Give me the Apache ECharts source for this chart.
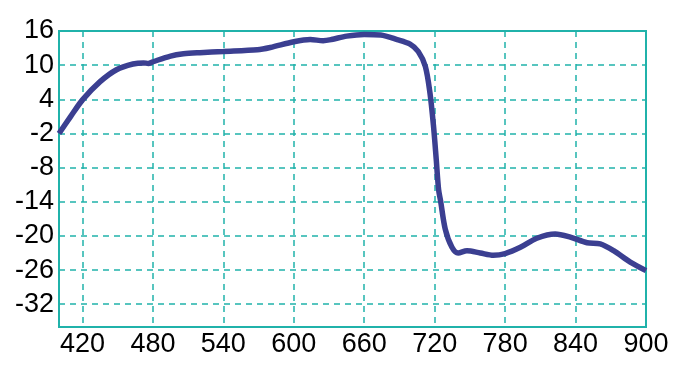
<!DOCTYPE html>
<html><head><meta charset="utf-8">
<script src="https://cdn.jsdelivr.net/npm/echarts@6/dist/echarts.min.js"></script>
<style>html,body{margin:0;padding:0;background:#fff}#c{width:675px;height:376px}</style>
</head><body><div id="c"></div>
<script>
const xValues = [400,410,420,435,449,463,472,476,480,495,506,520,540,569,580,600,614,625,632,645,660,674,688,699,706,712,716,719,721.3,723.3,725,729,734.7,740,747.5,758.8,770,780,793,807,822.7,835.5,849.8,861,872.4,886.6,900];
const yValues = [-2.0,1.0,3.9,7.1,9.2,10.2,10.4,10.3,10.6,11.6,12.0,12.2,12.4,12.7,13.1,14.1,14.5,14.3,14.5,15.1,15.4,15.3,14.5,13.7,12.4,9.8,5.1,-0.7,-6.5,-11.8,-13.8,-18.8,-22.0,-23.0,-22.6,-23.0,-23.4,-23.1,-22.0,-20.4,-19.65,-20.2,-21.2,-21.4,-22.6,-24.6,-26.1];
const xTicks = [420,480,540,600,660,720,780,840,900];
const yTicks = [16,10,4,-2,-8,-14,-20,-26,-32];

const teal = '#20b2aa';
const chart = echarts.init(document.getElementById('c'));
chart.setOption({
  animation: false,
  grid: {left: 59, right: 29, top: 31, bottom: 49, show: true, borderColor: teal, borderWidth: 2, backgroundColor: 'transparent'},
  xAxis: {
    type: 'value', min: 400, max: 900,
    axisLine: {show: true, onZero: false, lineStyle: {color: teal, width: 2}},
    axisTick: {show: false, customValues: xTicks},
    axisLabel: {customValues: xTicks, color: '#000', fontSize: 27, fontFamily: 'Liberation Sans, Arial', margin: 4},
    splitLine: {show: true, lineStyle: {color: teal, type: [6, 5], width: 1.5}}
  },
  yAxis: {
    type: 'value', min: -36, max: 16,
    axisLine: {show: true, onZero: false, lineStyle: {color: teal, width: 2}},
    axisTick: {show: false, customValues: yTicks},
    axisLabel: {customValues: yTicks, color: '#000', fontSize: 27, fontFamily: 'Liberation Sans, Arial', margin: 5},
    splitLine: {show: true, lineStyle: {color: teal, type: [6, 5], width: 1.5}}
  },
  series: [{
    type: 'line',
    data: xValues.map((x, i) => [x, yValues[i]]),
    smooth: 0.3,
    showSymbol: false,
    lineStyle: {color: '#3b3f91', width: 5.5}
  }]
});
</script></body></html>
